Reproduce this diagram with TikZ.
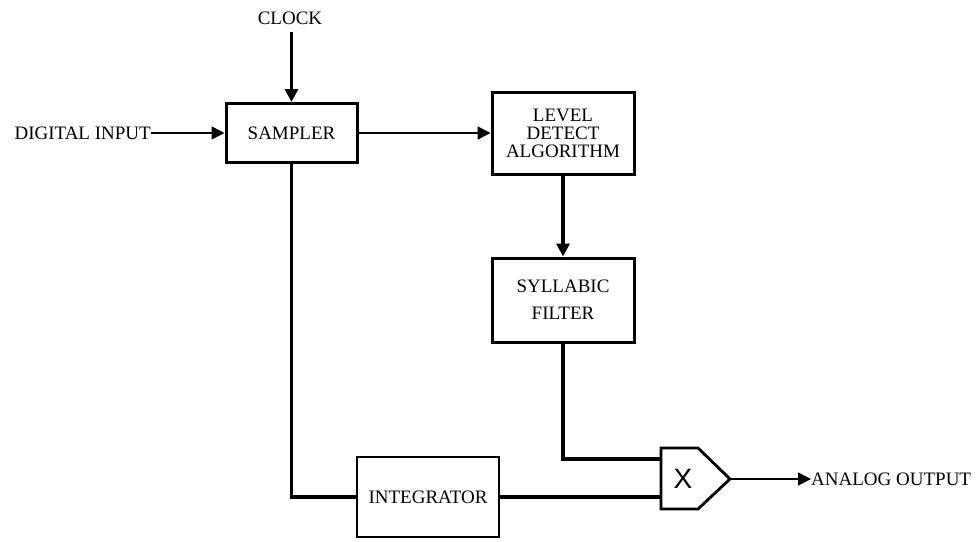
\documentclass[tikz,border=0pt]{standalone}
\usepackage{fontspec}
\setmainfont{Liberation Serif}
\newfontfamily\xfont{Liberation Sans}
\usetikzlibrary{arrows.meta}
\begin{document}
\begin{tikzpicture}[x=1pt,y=-1pt,
  every node/.style={font=\fontsize{19}{18}\selectfont},
  blk/.style={draw,line width=3pt,inner sep=0pt,align=center},
  thin/.style={line width=1.5pt},
  thick/.style={line width=3.2pt},
  tip/.style={-{Triangle[length=13pt,width=13pt]}}]
\useasboundingbox (0,0) rectangle (977,541);
\node[blk,minimum width=131pt,minimum height=59pt] (samp) at (291.5,133) {SAMPLER};
\node[blk,minimum width=142pt,minimum height=82pt] (ld) at (563,133) {LEVEL\\DETECT\\ALGORITHM};
\node[blk,minimum width=142pt,minimum height=84pt] (sf) at (563,300) {SYLLABIC\\[9pt]FILTER};
\node[blk,line width=2.2pt,minimum width=142pt,minimum height=80pt] (integ) at (428,497) {INTEGRATOR};
% multiplier
\coordinate (mw1) at (661,459);
\coordinate (mw2) at (661,498);
\coordinate (me) at (730,479);
\draw[line width=2.8pt,line join=miter] (661,448) -- (698,448) -- (me) -- (698,509) -- (661,509) -- cycle;
\node[font=\xfont\fontsize{28}{28}\selectfont,inner sep=0pt] (xs) at (683,479) {X};
\node[inner sep=1pt] (clock) at (290,18) {CLOCK};
\node[anchor=east,inner sep=0pt] (din) at (151,133) {DIGITAL INPUT};
\node[anchor=west,inner sep=0pt] (aout) at (811,479) {ANALOG OUTPUT};
\coordinate (clocktop) at (291.5,32);
\draw[thick,tip] (clocktop) -- (samp.north);
\draw[thin,tip] (din.east) -- (samp.west);
\draw[thin,tip] (samp.east) -- (ld.west);
\draw[thick,tip] (ld.south) -- (sf.north);
\draw[thick] (sf.south) |- (mw1);
\draw[thick] (samp.south) |- (integ.west);
\draw[thick] (integ.east) -- (integ.east -| mw2);
\draw[thin,tip] (me) -- (aout.west);
\end{tikzpicture}
\end{document}
